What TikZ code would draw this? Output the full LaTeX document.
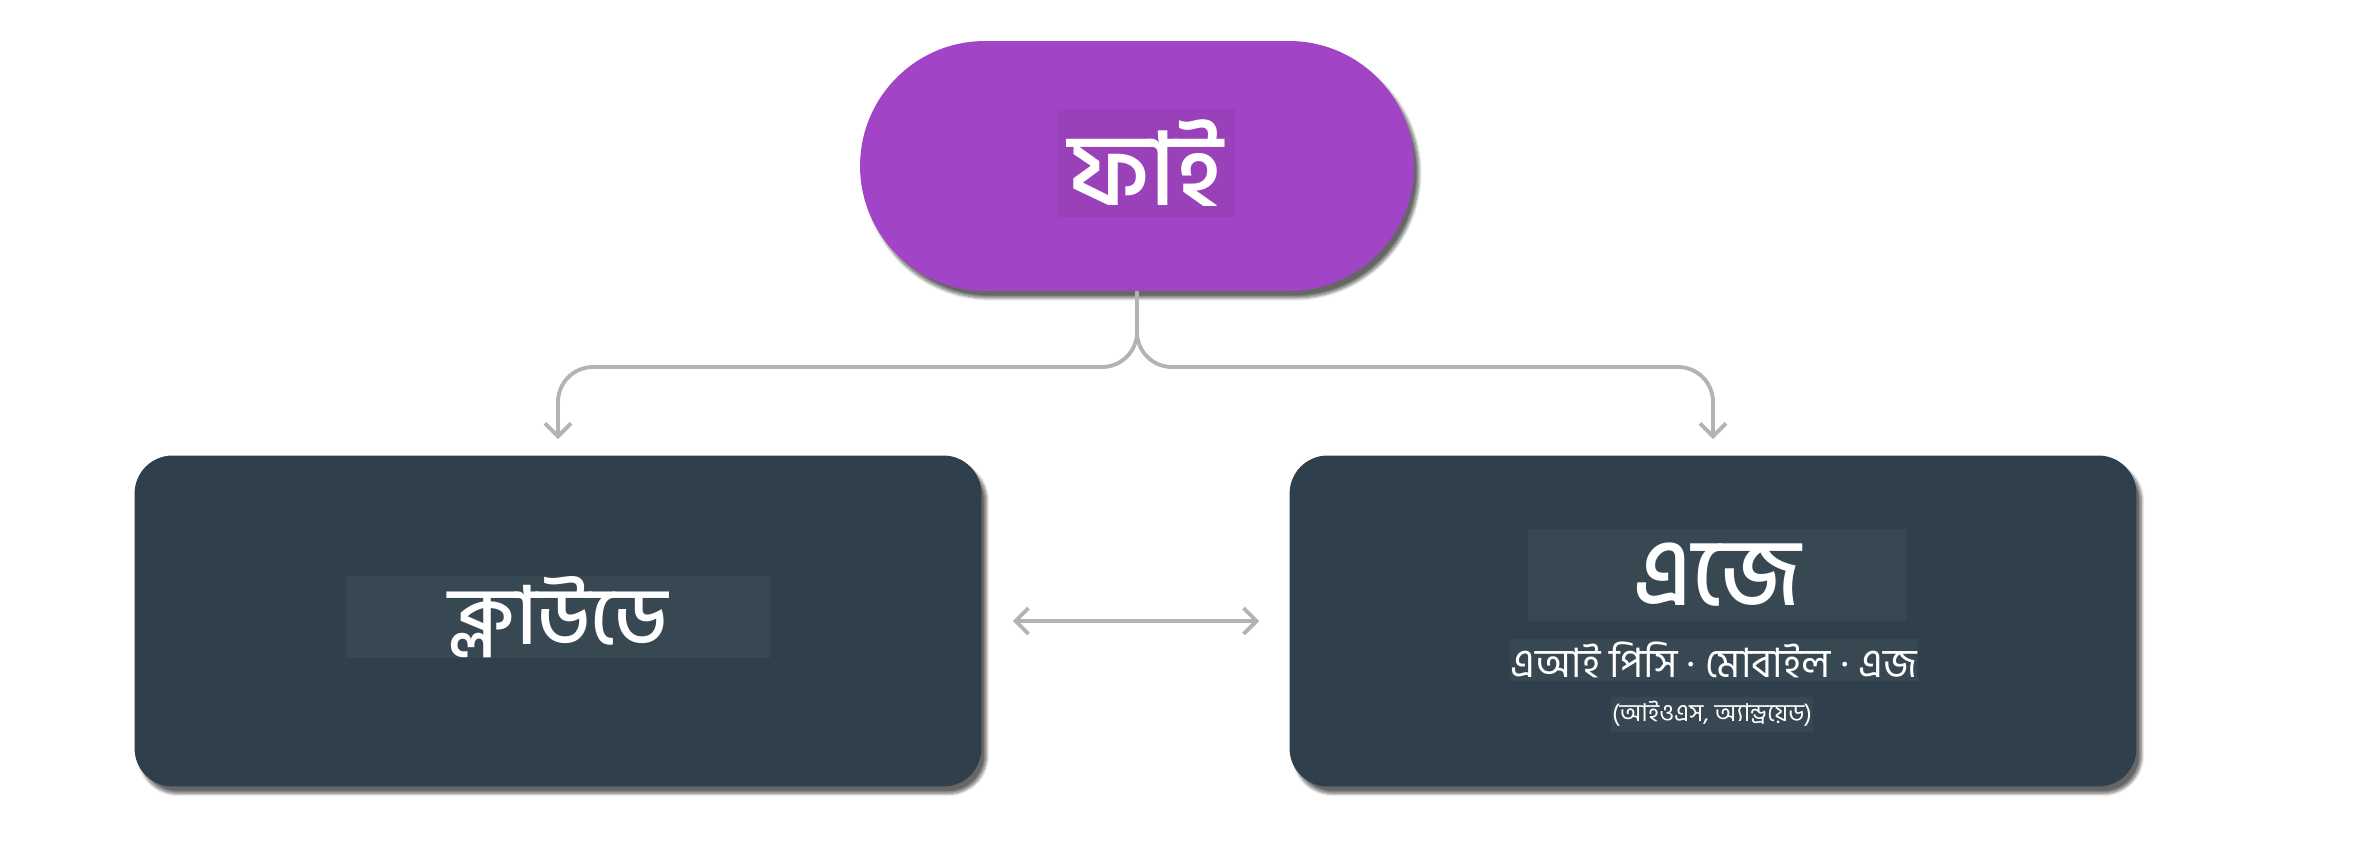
\documentclass[tikz,border=0pt]{standalone}
\usepackage{fontspec}
\newfontfamily\bnfont[Script=Bengali, BoldFont={Hind Siliguri Medium}]{Hind Siliguri}
\usetikzlibrary{arrows.meta, positioning, calc, shadows.blur}
\definecolor{phipurple}{HTML}{A144C5}
\definecolor{philabel}{HTML}{9A40B9}
\definecolor{boxdark}{HTML}{2F3F4C}
\definecolor{boxlabel}{HTML}{384852}
\definecolor{linkgray}{HTML}{B3B3B3}
\tikzset{
  box/.style={
    rectangle, rounded corners=0.76cm, minimum width=16.94cm, minimum height=6.62cm,
    fill=boxdark, blur shadow={shadow xshift=0.1cm, shadow yshift=-0.14cm, shadow blur steps=8, shadow opacity=60}
  },
  pill/.style={
    rectangle, rounded corners=2.5cm, minimum width=11.08cm, minimum height=5cm,
    fill=phipurple, blur shadow={shadow xshift=0.1cm, shadow yshift=-0.14cm, shadow blur steps=8, shadow opacity=60}
  },
  boxtext/.style={text=white, inner sep=0pt, font=\bnfont},
  link/.style={draw=linkgray, line width=2.2pt, >={Straight Barb[length=2.6mm, width=5.2mm]}}
}

\begin{document}
\begin{tikzpicture}[x=0.02cm, y=-0.02cm]
    \useasboundingbox (0,0) rectangle (2377,851);

    % top
    \node[pill] (phi) at (1137,166) {};
    \node[boxtext, fill=philabel, minimum width=3.58cm, minimum height=2.16cm,
      font=\bnfont\bfseries\fontsize{58}{62}\selectfont] (philbl) at (1146,163) {ফাই};

    % bottom row
    \node[box] (cloud) at (558,621) {};
    \node[box] (edge) at (1713,621) {};

    \node[boxtext, fill=boxlabel, minimum width=8.48cm, minimum height=1.64cm,
      font=\bnfont\bfseries\fontsize{46}{50}\selectfont] (cloudlbl) at (558,617) {ক্লাউডে};

    \node[boxtext, fill=boxlabel, minimum width=7.56cm, minimum height=1.86cm,
      font=\bnfont\bfseries\fontsize{54}{58}\selectfont] (edgelbl) at (1717,575) {এজে};
    \node[boxtext, fill=boxlabel, minimum width=8.16cm, minimum height=0.86cm,
      font=\bnfont\fontsize{23}{26}\selectfont] (edgesub) at (1714,660) {এআই পিসি · মোবাইল · এজ};
    \node[boxtext, fill=boxlabel, minimum width=4.04cm, minimum height=0.7cm,
      font=\bnfont\fontsize{14}{16}\selectfont] (edgeos) at (1712,714) {(আইওএস, অ্যান্ড্রয়েড)};

    % connectors
    \coordinate (split) at (1137,367);
    \draw[link, rounded corners=0.7cm, ->] (phi.south) |- (cloud.north |- split) -- ([yshift=0.32cm]cloud.north);
    \draw[link, rounded corners=0.7cm, ->] (phi.south) |- (edge.north |- split) -- ([yshift=0.32cm]edge.north);
    \draw[link, <->] ([xshift=0.62cm]cloud.east) -- ([xshift=-0.6cm]edge.west);

\end{tikzpicture}
\end{document}
